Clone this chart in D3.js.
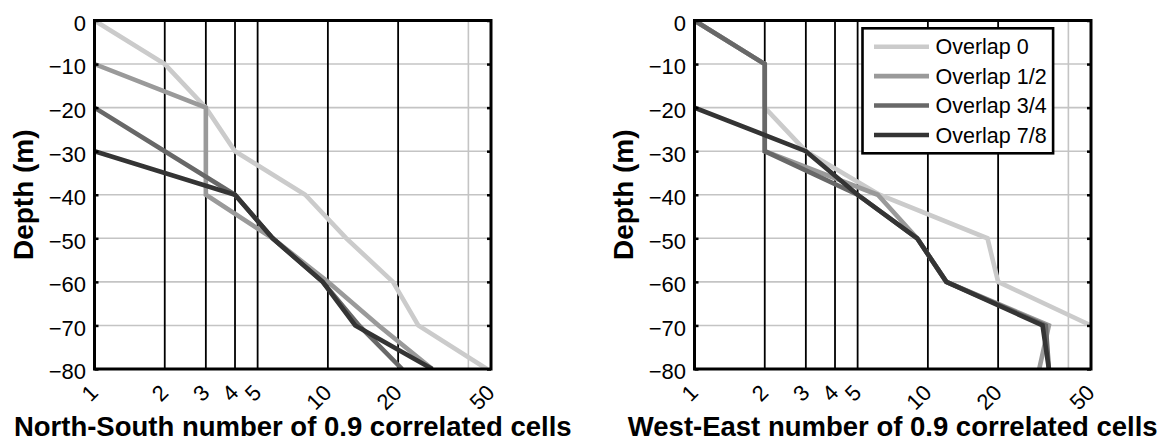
<!DOCTYPE html>
<html>
<head>
<meta charset="utf-8">
<script src="https://cdn.jsdelivr.net/npm/d3@7"></script>
<style>
  html, body { margin: 0; padding: 0; background: #fff; }
  svg { display: block; font-family: "Liberation Sans", Arial, Helvetica, sans-serif; }
</style>
</head>
<body>
<svg id="chart" width="1158" height="441"></svg>
<script>
// ---- data ----
const depths = [0, -10, -20, -30, -40, -50, -60, -70, -80];
const seriesNames = ["Overlap 0", "Overlap 1/2", "Overlap 3/4", "Overlap 7/8"];
const seriesColors = ["#cbcbcb", "#9a9a9a", "#686868", "#343434"];

// North-South panel (number of 0.9 correlated cells at each depth)
const nsOverlap0  = [1, 2, 3, 4, 8, 12, 19, 24.4, 48];
const nsOverlap12 = [null, 1, 3, 3, 3, 5.8, 10, 16.5, 28];
const nsOverlap34 = [null, null, 1, 2, 4, 5.8, 9.5, 13.6, 20.8];
const nsOverlap78 = [null, null, null, 1, 4, 5.8, 9.5, 13.1, 28];

// West-East panel
const weOverlap0  = [1, 2, 2, 3, 6.2, 18, 20, 50, null];
const weOverlap12 = [1, 2, 2, 2, 6.1, 9, 12, 33, 30];
const weOverlap34 = [1, 2, 2, 2, 5, 9, 12, 32, 33];
const weOverlap78 = [null, null, 1, 3, 5, 9, 12, 31, 33];

const xTickValues = [1, 2, 3, 4, 5, 10, 20, 50];
const yTickValues = [0, -10, -20, -30, -40, -50, -60, -70, -80];
const blackLineValues = [2, 3, 4, 5, 10, 20];
const grayGridX = [40];
const xTitles = ["North-South number of 0.9 correlated cells", "West-East number of 0.9 correlated cells"];
const yTitle = "Depth (m)";

// ---- layout ----
const svg = d3.select("#chart");
svg.append("rect").attr("width", 1158).attr("height", 441).attr("fill", "#fff");

const plotW = 396.5, plotTop = 20.5, plotBottom = 369;

function drawPanel(idx, x0, seriesValues, withLegend) {
  const x = d3.scaleLog().domain([1, 50]).range([x0, x0 + plotW]);
  const y = d3.scaleLinear().domain([-80, 0]).range([plotBottom, plotTop]);
  const g = svg.append("g");

  const clipId = "clip" + idx;
  g.append("clipPath").attr("id", clipId)
    .append("rect").attr("x", x0).attr("y", plotTop).attr("width", plotW).attr("height", plotBottom - plotTop);

  // gray grid
  g.append("g").selectAll("line.hg").data(yTickValues).join("line")
    .attr("x1", x0).attr("x2", x0 + plotW)
    .attr("y1", d => y(d)).attr("y2", d => y(d))
    .attr("stroke", "#c4c4c4").attr("stroke-width", 1.6);
  g.append("g").selectAll("line.vg").data(grayGridX).join("line")
    .attr("x1", d => x(d)).attr("x2", d => x(d))
    .attr("y1", plotTop).attr("y2", plotBottom)
    .attr("stroke", "#c4c4c4").attr("stroke-width", 1.6);

  // black vertical reference lines
  g.append("g").selectAll("line").data(blackLineValues).join("line")
    .attr("x1", d => x(d)).attr("x2", d => x(d))
    .attr("y1", plotTop).attr("y2", plotBottom)
    .attr("stroke", "#000").attr("stroke-width", 1.8);

  // data lines
  const line = d3.line()
    .defined(d => d.v != null)
    .x(d => x(d.v)).y(d => y(d.depth));
  const lg = g.append("g").attr("clip-path", `url(#${clipId})`);
  seriesValues.forEach((vals, i) => {
    const pts = depths.map((dep, j) => ({ depth: dep, v: vals[j] }));
    lg.append("path").datum(pts)
      .attr("d", line)
      .attr("fill", "none")
      .attr("stroke", seriesColors[i])
      .attr("stroke-width", 4.6)
      .attr("stroke-linejoin", "miter");
  });

  // y axis (left) with labels and inward ticks
  const yAxis = d3.axisLeft(y).tickValues(yTickValues).tickSize(-4).tickPadding(8.5).tickFormat(d3.format("d"));
  const ya = g.append("g").attr("transform", `translate(${x0},0)`).call(yAxis);
  ya.select(".domain").remove();
  ya.selectAll("line").attr("stroke", "#000").attr("stroke-width", 2.5);
  ya.selectAll("text").attr("font-size", 22).attr("fill", "#000").attr("dy", "0.45em")
    .attr("font-family", "'Liberation Sans', Arial, sans-serif");

  // right ticks
  const yAxisR = d3.axisRight(y).tickValues(yTickValues).tickSize(-4).tickFormat("");
  const yr = g.append("g").attr("transform", `translate(${x0 + plotW},0)`).call(yAxisR);
  yr.select(".domain").remove();
  yr.selectAll("line").attr("stroke", "#000").attr("stroke-width", 2.5);

  // x axis labels (rotated)
  const xAxis = d3.axisBottom(x).tickValues(xTickValues).tickSize(0).tickFormat(d3.format("d"));
  const xa = g.append("g").attr("transform", `translate(0,${plotBottom})`).call(xAxis);
  xa.select(".domain").remove();
  xa.selectAll("text")
    .attr("font-size", 22).attr("fill", "#000")
    .attr("font-family", "'Liberation Sans', Arial, sans-serif")
    .attr("x", 4.5).attr("y", 25).attr("dy", 0)
    .attr("text-anchor", "end")
    .attr("transform", "rotate(-45, 4.5, 25)");

  // frame
  g.append("rect").attr("x", x0).attr("y", plotTop)
    .attr("width", plotW).attr("height", plotBottom - plotTop)
    .attr("fill", "none").attr("stroke", "#000").attr("stroke-width", 3);

  // titles
  g.append("text")
    .attr("x", x0 + plotW / 2).attr("y", 436)
    .attr("text-anchor", "middle").attr("font-weight", "bold").attr("font-size", 27.5)
    .text(xTitles[idx]);
  g.append("text")
    .attr("transform", `translate(${x0 - 61.5},${(plotTop + plotBottom) / 2}) rotate(-90)`)
    .attr("text-anchor", "middle").attr("font-weight", "bold").attr("font-size", 28)
    .text(yTitle);

  if (withLegend) {
    const lgX = x0 + 168, lgY = 28.3, lgW = 190.6, lgH = 125;
    const leg = g.append("g");
    leg.append("rect").attr("x", lgX).attr("y", lgY).attr("width", lgW).attr("height", lgH)
      .attr("fill", "#fff").attr("stroke", "#000").attr("stroke-width", 2.6);
    const rowY = d3.scaleLinear().domain([0, 3]).range([lgY + 18.4, lgY + 106.7]);
    seriesNames.forEach((name, i) => {
      leg.append("line")
        .attr("x1", lgX + 11.5).attr("x2", lgX + 66.5)
        .attr("y1", rowY(i)).attr("y2", rowY(i))
        .attr("stroke", seriesColors[i]).attr("stroke-width", 4.6);
      leg.append("text")
        .attr("x", lgX + 73).attr("y", rowY(i) + 7.5)
        .attr("font-size", 21.5).attr("fill", "#000")
        .text(name);
    });
  }
}

drawPanel(0, 94.5, [nsOverlap0, nsOverlap12, nsOverlap34, nsOverlap78], false);
drawPanel(1, 694.5, [weOverlap0, weOverlap12, weOverlap34, weOverlap78], true);
</script>
</body>
</html>
